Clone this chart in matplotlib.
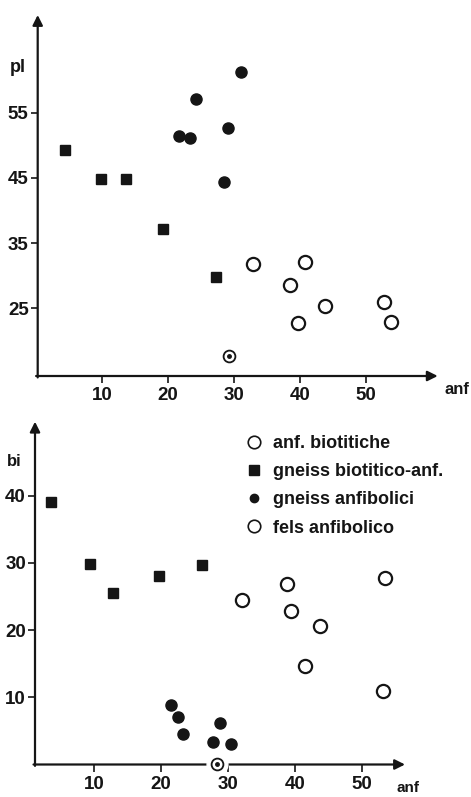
import matplotlib
matplotlib.use('Agg')
import matplotlib.pyplot as plt
from matplotlib.lines import Line2D

plt.rcParams['font.family'] = ['Liberation Sans', 'DejaVu Sans']
plt.rcParams['font.weight'] = 'bold'

# pannello superiore: pl vs anf
top_sq_x = [4.4, 9.9, 13.7, 19.2, 27.3]
top_sq_y = [49.3, 44.9, 44.8, 37.1, 29.8]
top_fc_x = [31.1, 24.2, 21.6, 23.3, 29.1, 28.5]
top_fc_y = [61.3, 57.1, 51.4, 51.1, 52.6, 44.3]
top_oc_x = [32.8, 40.8, 38.4, 43.8, 39.6, 52.7, 53.7]
top_oc_y = [31.8, 32.1, 28.5, 25.4, 22.7, 26.0, 22.9]
top_fels_x = [29.2]
top_fels_y = [17.6]

# pannello inferiore: bi vs anf
bot_sq_x = [3.5, 9.4, 12.8, 19.6, 26.1]
bot_sq_y = [39.0, 29.9, 25.5, 28.1, 29.7]
bot_fc_x = [21.4, 22.5, 23.3, 28.8, 27.7, 30.4]
bot_fc_y = [8.8, 7.0, 4.6, 6.1, 3.3, 3.0]
bot_oc_x = [32.1, 38.9, 39.5, 43.7, 41.5, 53.5, 53.2]
bot_oc_y = [24.4, 26.8, 22.9, 20.6, 14.6, 27.8, 11.0]
bot_fels_x = [28.3]
bot_fels_y = [0.1]

x_ticks = [10, 20, 30, 40, 50]
top_y_ticks = [25, 35, 45, 55]
bot_y_ticks = [10, 20, 30, 40]

legend_labels = ['anf. biotitiche', 'gneiss biotitico-anf.',
                 'gneiss anfibolici', 'fels anfibolico']

ink = '#151515'
W, H = 471, 797
fig = plt.figure(figsize=(W / 100, H / 100), dpi=100)
fig.patch.set_facecolor('white')

ax1 = fig.add_axes([37.7 / W, 1 - 376 / H, 400 / W, (376 - 15) / H])
ax2 = fig.add_axes([35 / W, 1 - 764.5 / H, 370 / W, (764.5 - 421.7) / H])
ax1.set_xlim(0.3, 60.8)
ax1.set_ylim(14.6, 70)
ax2.set_xlim(1.1, 56.5)
ax2.set_ylim(0, 51)


def style(ax, yt):
    for s in ax.spines.values():
        s.set_visible(False)
    ax.set_facecolor('none')
    ax.set_xticks(x_ticks)
    ax.set_yticks(yt)
    ax.tick_params(direction='out', length=5, width=1.2, color=ink,
                   labelcolor=ink, labelsize=13.5, pad=1.5)
    ax.tick_params(axis='x', pad=3)
    for lab in ax.get_xticklabels() + ax.get_yticklabels():
        lab.set_fontweight('bold')
    arrow = dict(arrowstyle='-|>', lw=1.6, color=ink, mutation_scale=15,
                 shrinkA=0, shrinkB=0)
    ax.annotate('', xy=(1, 0), xytext=(-0.004, 0), xycoords='axes fraction',
                arrowprops=arrow, annotation_clip=False)
    ax.annotate('', xy=(0, 1), xytext=(0, -0.004), xycoords='axes fraction',
                arrowprops=arrow, annotation_clip=False)


style(ax1, top_y_ticks)
style(ax2, bot_y_ticks)


def draw(ax, sq_x, sq_y, fc_x, fc_y, oc_x, oc_y, fx, fy):
    ax.plot(sq_x, sq_y, 's', ms=7.5, color=ink, ls='none', zorder=3)
    ax.plot(fc_x, fc_y, 'o', ms=8, color=ink, ls='none', zorder=3)
    ax.plot(oc_x, oc_y, 'o', ms=9.5, mfc='white', mec=ink, mew=1.6,
            ls='none', zorder=3)
    ax.plot(fx, fy, 'o', ms=15, mfc='white', mec='white', ls='none',
            zorder=4, clip_on=False)
    ax.plot(fx, fy, 'o', ms=8.5, mfc='white', mec=ink, mew=1.3, ls='none',
            zorder=5, clip_on=False)
    ax.plot(fx, fy, 'o', ms=2.5, color=ink, ls='none', zorder=6,
            clip_on=False)


draw(ax1, top_sq_x, top_sq_y, top_fc_x, top_fc_y, top_oc_x, top_oc_y,
     top_fels_x, top_fels_y)
draw(ax2, bot_sq_x, bot_sq_y, bot_fc_x, bot_fc_y, bot_oc_x, bot_oc_y,
     bot_fels_x, bot_fels_y)

# etichette degli assi
fig.text(18 / W, 1 - 67 / H, 'pl', fontsize=13, fontweight='bold',
         color=ink, ha='center', va='center')
fig.text(457 / W, 1 - 389 / H, 'anf', fontsize=12, fontweight='bold',
         color=ink, ha='center', va='center')
fig.text(14 / W, 1 - 461 / H, 'bi', fontsize=12, fontweight='bold',
         color=ink, ha='center', va='center')
fig.text(408 / W, 1 - 788 / H, 'anf', fontsize=11, fontweight='bold',
         color=ink, ha='center', va='center')

handles = [
    Line2D([], [], marker='o', ls='none', ms=9, mfc='white', mec=ink, mew=1.2),
    Line2D([], [], marker='s', ls='none', ms=6.5, color=ink),
    Line2D([], [], marker='o', ls='none', ms=6, color=ink),
    Line2D([], [], marker='o', ls='none', ms=9, mfc='white', mec=ink, mew=1.2),
]
leg = fig.legend(handles, legend_labels, loc='upper left',
                 bbox_to_anchor=(245 / W, 1 - 435 / H), frameon=False,
                 handlelength=1.0, handletextpad=0.55, labelspacing=0.62,
                 borderpad=0, borderaxespad=0,
                 prop={'size': 13, 'weight': 'bold'})
for t in leg.get_texts():
    t.set_color(ink)

fig.savefig('out.png', dpi=100)
